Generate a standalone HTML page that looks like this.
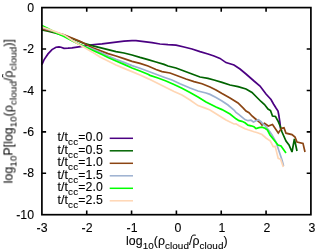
<!DOCTYPE html>
<html><head><meta charset="utf-8"><style>
html,body{margin:0;padding:0;background:#fff;}
body{width:320px;height:250px;position:relative;overflow:hidden;font-family:"Liberation Sans",sans-serif;font-size:12.3px;color:#000;}
.t{position:absolute;will-change:transform;-webkit-text-stroke:0.1px #000;white-space:nowrap;line-height:12px;}
.yl{text-align:right;width:30px;}
.xl{text-align:center;width:30px;}
.s{font-size:9.9px;position:relative;top:3.6px;}
.k{text-align:right;width:70px;letter-spacing:0.12px;}
</style></head><body>
<svg width="320" height="250" viewBox="0 0 320 250" style="position:absolute;left:0;top:0">
<path d="M41.90,64.70 L44.00,59.80 L48.00,53.90 L52.00,49.60 L56.00,47.20 L59.00,46.80 L61.00,47.20 L64.00,48.40 L68.00,48.20 L72.00,47.90 L82.00,46.30 L92.00,44.75 L102.00,43.80 L112.00,42.60 L124.00,41.10 L132.00,40.70 L136.00,40.70 L144.00,41.70 L152.00,42.70 L160.00,44.00 L168.00,44.70 L176.00,45.09 L184.00,47.00 L192.00,49.00 L200.00,51.60 L208.00,54.00 L214.00,56.00 L220.00,58.40 L226.00,62.60 L234.00,65.00 L240.00,69.00 L246.00,74.00 L254.00,81.00 L260.00,86.00 L266.00,94.00 L271.00,99.50 L273.50,104.00 L276.00,108.00 L278.00,111.00 L278.80,115.00 L280.00,123.00 L280.60,129.00" fill="none" stroke="#4b0082" stroke-width="1.7" stroke-linejoin="miter" stroke-miterlimit="3" stroke-linecap="butt"/>
<path d="M41.90,30.00 L48.00,31.10 L56.00,33.20 L64.00,35.70 L72.00,38.50 L80.00,41.80 L84.00,43.40 L92.00,45.60 L100.00,47.60 L108.00,49.60 L116.00,51.60 L124.00,53.00 L132.00,55.00 L140.00,57.40 L148.00,59.60 L156.00,62.00 L164.00,64.40 L168.00,66.00 L176.00,68.00 L184.00,71.00 L192.00,74.00 L200.00,77.00 L208.00,78.40 L214.00,80.00 L222.00,82.40 L230.00,85.00 L238.00,86.60 L246.00,89.00 L252.00,92.50 L257.00,97.50 L261.00,101.50 L264.50,104.50 L268.00,109.00 L270.50,110.50 L272.50,116.00 L275.50,116.50 L278.00,121.00 L280.50,127.00 L282.00,132.00 L286.00,141.00 L289.00,145.00 L292.00,152.00 L294.40,139.00 L297.00,151.00" fill="none" stroke="#006400" stroke-width="1.7" stroke-linejoin="miter" stroke-miterlimit="3" stroke-linecap="butt"/>
<path d="M41.90,28.80 L48.00,30.30 L56.00,32.50 L64.00,34.90 L72.00,38.00 L80.00,41.40 L84.00,43.20 L92.00,47.50 L100.00,50.60 L108.00,53.60 L116.00,56.00 L124.00,58.60 L132.00,61.40 L140.00,63.40 L148.00,66.00 L156.00,69.50 L162.00,71.60 L170.00,73.00 L178.00,76.00 L186.00,79.00 L194.00,81.60 L202.00,83.80 L210.00,87.00 L216.00,90.00 L222.00,93.60 L230.00,98.00 L238.00,103.00 L243.50,108.30 L246.00,111.00 L249.00,112.70 L252.00,116.00 L255.00,118.50 L257.50,120.50 L260.00,122.50 L262.00,125.00 L264.50,123.20 L268.30,126.00 L272.50,124.50 L278.30,133.00 L281.60,128.30 L284.00,127.80 L286.00,133.20 L292.00,134.60 L295.00,137.00 L297.00,142.00 L303.00,143.40 L305.00,152.00" fill="none" stroke="#8b4513" stroke-width="1.7" stroke-linejoin="miter" stroke-miterlimit="3" stroke-linecap="butt"/>
<path d="M41.90,27.50 L56.00,32.20 L64.00,35.30 L72.00,40.20 L80.00,44.60 L84.00,46.40 L92.00,48.75 L102.00,53.10 L108.00,56.00 L116.00,59.40 L124.00,62.40 L132.00,65.60 L140.00,68.20 L148.00,71.20 L156.00,74.30 L164.00,77.20 L172.00,80.00 L180.00,83.80 L190.00,87.92 L198.00,91.00 L206.00,93.00 L210.00,94.40 L216.00,97.60 L222.00,101.00 L228.00,105.00 L234.00,110.00 L236.00,112.30 L239.00,114.70 L242.00,117.20 L245.00,119.60 L248.00,120.70 L251.00,120.20 L253.50,122.00 L256.00,120.70 L258.50,119.70 L261.00,121.60 L263.00,124.00 L265.00,125.60 L267.00,128.00 L270.00,132.00 L272.00,135.00 L276.00,142.00 L279.00,151.00 L282.00,160.00 L283.60,166.00" fill="none" stroke="#9cb0d0" stroke-width="1.7" stroke-linejoin="miter" stroke-miterlimit="3" stroke-linecap="butt"/>
<path d="M41.90,25.60 L48.00,28.40 L56.00,32.70 L64.00,36.40 L72.00,40.80 L80.00,44.60 L84.00,46.20 L92.00,50.00 L102.00,54.60 L108.00,57.60 L116.00,61.00 L124.00,64.40 L132.00,68.00 L140.00,71.00 L148.00,74.28 L150.00,75.36 L158.00,78.00 L166.00,81.00 L174.00,84.40 L182.00,88.36 L190.00,92.60 L198.00,97.00 L206.00,102.00 L210.00,104.00 L216.00,107.00 L222.00,109.60 L230.00,114.00 L236.00,118.80 L239.00,120.70 L242.00,121.30 L245.00,122.80 L248.00,125.20 L251.00,125.80 L254.00,126.80 L256.00,128.60 L259.00,127.70 L262.00,127.20 L265.00,128.30 L267.50,130.00 L270.00,135.00 L274.00,140.00 L278.00,145.00 L281.00,146.00 L286.00,153.00" fill="none" stroke="#00ff00" stroke-width="1.7" stroke-linejoin="miter" stroke-miterlimit="3" stroke-linecap="butt"/>
<path d="M41.90,27.00 L48.00,29.00 L56.00,31.90 L64.00,34.90 L72.00,40.20 L80.00,44.90 L84.00,47.30 L92.00,51.90 L100.00,57.00 L108.00,61.00 L116.00,65.00 L124.00,68.40 L132.00,71.60 L140.00,75.00 L148.00,78.60 L150.00,79.40 L158.00,83.60 L166.00,87.60 L174.00,91.60 L182.00,95.00 L190.00,100.00 L198.00,105.60 L206.00,108.40 L210.00,110.00 L218.00,115.00 L226.00,120.00 L234.00,124.00 L236.00,123.80 L239.00,125.80 L242.00,127.20 L245.00,128.70 L248.00,129.80 L251.00,130.80 L254.00,131.80 L257.50,132.80 L262.00,134.50 L266.00,138.00 L270.40,141.00 L273.20,146.60 L275.20,146.40 L278.20,158.40 L280.60,159.20 L283.30,167.00" fill="none" stroke="#ffd6b4" stroke-width="1.7" stroke-linejoin="miter" stroke-miterlimit="3" stroke-linecap="butt"/>
<path d="M109.7,138.30 H133" fill="none" stroke="#4b0082" stroke-width="1.5"/>
<path d="M109.7,150.80 H133" fill="none" stroke="#006400" stroke-width="1.5"/>
<path d="M109.7,163.30 H133" fill="none" stroke="#8b4513" stroke-width="1.5"/>
<path d="M109.7,175.80 H133" fill="none" stroke="#9cb0d0" stroke-width="1.5"/>
<path d="M109.7,188.30 H133" fill="none" stroke="#00ff00" stroke-width="1.5"/>
<path d="M109.7,200.80 H133" fill="none" stroke="#ffd6b4" stroke-width="1.5"/>
<rect x="41.90" y="7.60" width="269.00" height="207.10" fill="none" stroke="#000" stroke-width="1.7"/>
<path d="M86.73,214.70 v-4.20 M86.73,7.60 v4.20 M131.57,214.70 v-4.20 M131.57,7.60 v4.20 M176.40,214.70 v-4.20 M176.40,7.60 v4.20 M221.23,214.70 v-4.20 M221.23,7.60 v4.20 M266.07,214.70 v-4.20 M266.07,7.60 v4.20 M41.90,49.02 h4.20 M310.90,49.02 h-4.20 M41.90,90.44 h4.20 M310.90,90.44 h-4.20 M41.90,131.86 h4.20 M310.90,131.86 h-4.20 M41.90,173.28 h4.20 M310.90,173.28 h-4.20" stroke="#000" stroke-width="1.6" fill="none"/>
<path d="M192.2,235.5 Q194,234.7 195.8,235.2 M2.9,77.4 Q2.2,75.7 2.9,74.2" stroke="#000" stroke-width="1" fill="none"/>
</svg>
<div class="t yl" style="left:4.10px;top:1.80px">0</div>
<div class="t yl" style="left:4.10px;top:43.22px">-2</div>
<div class="t yl" style="left:4.10px;top:84.64px">-4</div>
<div class="t yl" style="left:4.10px;top:126.06px">-6</div>
<div class="t yl" style="left:4.10px;top:167.48px">-8</div>
<div class="t yl" style="left:4.10px;top:208.90px">-10</div>
<div class="t xl" style="left:27.20px;top:221.80px">-3</div>
<div class="t xl" style="left:72.03px;top:221.80px">-2</div>
<div class="t xl" style="left:116.87px;top:221.80px">-1</div>
<div class="t xl" style="left:162.60px;top:221.80px">0</div>
<div class="t xl" style="left:207.43px;top:221.80px">1</div>
<div class="t xl" style="left:252.27px;top:221.80px">2</div>
<div class="t xl" style="left:297.10px;top:221.80px">3</div>
<div class="t k" style="left:32.60px;top:131.40px">t/t<span class="s">cc</span>=0.0</div>
<div class="t k" style="left:32.60px;top:143.90px">t/t<span class="s">cc</span>=0.5</div>
<div class="t k" style="left:32.60px;top:156.40px">t/t<span class="s">cc</span>=1.0</div>
<div class="t k" style="left:32.60px;top:168.90px">t/t<span class="s">cc</span>=1.5</div>
<div class="t k" style="left:32.60px;top:181.40px">t/t<span class="s">cc</span>=2.0</div>
<div class="t k" style="left:32.60px;top:193.90px">t/t<span class="s">cc</span>=2.5</div>
<div class="t" style="left:126.2px;top:235.40px;letter-spacing:0.07px">log<span class="s">10</span>(&rho;<span class="s">cloud</span>/&rho;<span class="s">cloud</span>)</div>
<div class="t" id="ylab" style="left:0;top:0;-webkit-text-stroke:0;transform-origin:0 0;letter-spacing:0.055px;transform:translate(2.5px,183.4px) rotate(-90deg)">log<span class="s">10</span>P[log<span class="s">10</span>(&rho;<span class="s">cloud</span>/&rho;<span class="s">cloud</span>)]</div>
</body></html>
